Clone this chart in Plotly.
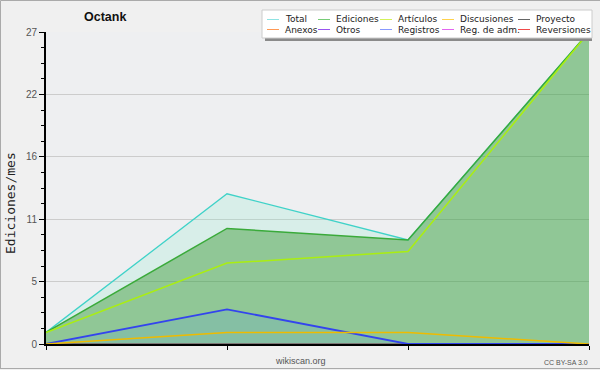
import plotly.graph_objects as go

# ---------------- data ----------------
periods = ["P1", "P2", "P3", "P4"]
total = [1, 13, 9, 27]
ediciones = [1, 10, 9, 27]
articulos = [1, 7, 8, 27]
discusiones = [0, 1, 1, 0]
proyecto = [0, 0, 0, 0]
anexos = [0, 0, 0, 0]
otros = [0, 0, 0, 0]
registros = [0, 3, 0, 0]
reg_adm = [0, 0, 0, 0]
reversiones = [0, 0, 0, 0]

y_tick_vals = [0, 5.4, 10.8, 16.2, 21.6, 27]
y_tick_text = ["0", "5", "11", "16", "22", "27"]

legend_names = ["Total", "Ediciones", "Artículos", "Discusiones", "Proyecto",
                "Anexos", "Otros", "Registros", "Reg. de adm.", "Reversiones"]
legend_colors = ["#8fe3e3", "#77cc77", "#d4f25a", "#ffd24d", "#666666",
                 "#ff9955", "#9955f0", "#8899ff", "#e366f0", "#f04a4a"]

# ---------------- figure ----------------
W, H = 600, 370
ML, MR, MT, MB = 46, 11, 32, 26
PW, PH = W - ML - MR, H - MT - MB


def px(x):
    return (x - ML) / PW


def py(y):
    return (H - MB - y) / PH


fig = go.Figure()

# zero-valued series (hidden under axis)
for vals, col in [(proyecto, "#555555"), (anexos, "#ff8844"), (otros, "#8833ee"),
                  (reg_adm, "#dd44ee"), (reversiones, "#ee3333")]:
    fig.add_trace(go.Scatter(x=periods, y=vals, mode="lines",
                             line=dict(color=col, width=1), showlegend=False,
                             hoverinfo="skip"))

# Ediciones area
fig.add_trace(go.Scatter(x=periods, y=ediciones, mode="lines", name="Ediciones",
                         line=dict(color="rgba(0,0,0,0)", width=0),
                         fill="tozeroy", fillcolor="rgba(50,160,60,0.5)"))
# Total area (between Ediciones and Total)
fig.add_trace(go.Scatter(x=periods, y=total, mode="lines", name="Total",
                         line=dict(color="#3fd2c8", width=1.3),
                         fill="tonexty", fillcolor="rgba(140,235,205,0.22)"))
# Ediciones line on top of Total
fig.add_trace(go.Scatter(x=periods, y=ediciones, mode="lines", name="Ediciones",
                         line=dict(color="#3aaa3a", width=1.5)))
fig.add_trace(go.Scatter(x=periods, y=articulos, mode="lines", name="Artículos",
                         line=dict(color="#aaee11", width=1.5)))
fig.add_trace(go.Scatter(x=periods, y=registros, mode="lines", name="Registros",
                         line=dict(color="#3344ee", width=1.8),
                         fill="tozeroy", fillcolor="rgba(71,147,250,0.15)"))
fig.add_trace(go.Scatter(x=periods, y=discusiones, mode="lines", name="Discusiones",
                         line=dict(color="#eebb00", width=1.5)))

shapes = []
annotations = []

# outer border
for x0, y0, x1, y1 in [(0.5, 0.5, 0.5, 369), (0.5, 0.5, 600, 0.5), (0, 368.5, 600, 368.5)]:
    shapes.append(dict(type="line", xref="paper", yref="paper",
                       x0=px(x0), y0=py(y0), x1=px(x1), y1=py(y1),
                       line=dict(color="#aaaaaa", width=1)))

# legend box with shadow
shapes.append(dict(type="rect", xref="paper", yref="paper",
                   x0=px(265), x1=px(592), y0=py(41), y1=py(35),
                   fillcolor="#8a8a8a", line=dict(width=0)))
shapes.append(dict(type="rect", xref="paper", yref="paper",
                   x0=px(262), x1=px(592), y0=py(38), y1=py(10),
                   fillcolor="#ffffff", line=dict(color="#cccccc", width=1)))

col_x = [267, 318, 380, 442, 518]
row_y = [19.5, 29.5]
for i, (name, col) in enumerate(zip(legend_names, legend_colors)):
    cx = col_x[i % 5]
    ry = row_y[i // 5]
    shapes.append(dict(type="line", xref="paper", yref="paper",
                       x0=px(cx), x1=px(cx + 12), y0=py(ry), y1=py(ry),
                       line=dict(color=col, width=1)))
    annotations.append(dict(text=name, xref="paper", yref="paper",
                            x=px(cx + 16), y=py(ry), xanchor="left", yanchor="middle",
                            showarrow=False,
                            font=dict(family="DejaVu Sans", size=9, color="#222222")))

# title
annotations.append(dict(text="<b>Octank</b>", xref="paper", yref="paper",
                        x=px(105), y=py(17), xanchor="center", yanchor="middle",
                        showarrow=False,
                        font=dict(family="Liberation Sans", size=12.5, color="#111111")))
# y-axis title
annotations.append(dict(text="Ediciones/mes", xref="paper", yref="paper",
                        x=px(10), y=py(203), xanchor="center", yanchor="middle",
                        textangle=-90, showarrow=False,
                        font=dict(family="DejaVu Sans Mono", size=13, color="#222222")))
# bottom texts
annotations.append(dict(text="wikiscan.org", xref="paper", yref="paper",
                        x=px(300), y=py(361), xanchor="center", yanchor="middle",
                        showarrow=False,
                        font=dict(family="Liberation Sans", size=9, color="#555555")))
annotations.append(dict(text="CC BY-SA 3.0", xref="paper", yref="paper",
                        x=px(590), y=py(362), xanchor="right", yanchor="middle",
                        showarrow=False,
                        font=dict(family="Liberation Sans", size=7, color="#555555")))

fig.update_layout(
    width=W, height=H,
    margin=dict(l=ML, r=MR, t=MT, b=MB, pad=0),
    paper_bgcolor="#f0f0f0",
    plot_bgcolor="#eeeff1",
    showlegend=False,
    shapes=shapes,
    annotations=annotations,
    xaxis=dict(type="category", range=[0, 3], showgrid=False, zeroline=False,
               showline=True, linecolor="#000000", linewidth=2,
               ticks="outside", ticklen=4, tickcolor="#000000", tickwidth=1,
               showticklabels=False, fixedrange=True),
    yaxis=dict(range=[0, 27], tickmode="array", tickvals=y_tick_vals, ticktext=y_tick_text,
               showgrid=True, gridcolor="#cccccc", gridwidth=1, zeroline=False,
               showline=True, linecolor="#000000", linewidth=2,
               ticks="outside", ticklen=5, tickcolor="#000000", tickwidth=1,
               tickfont=dict(family="Liberation Sans", size=10, color="#555555"),
               minor=dict(tickmode="linear", tick0=0, dtick=1.35, ticks="outside",
                          ticklen=3, tickcolor="#000000", showgrid=False),
               fixedrange=True),
)

fig.write_html("out.html", config={"displayModeBar": False},
               post_script="document.body.style.margin='0px';document.body.style.background='#f0f0f0';")
